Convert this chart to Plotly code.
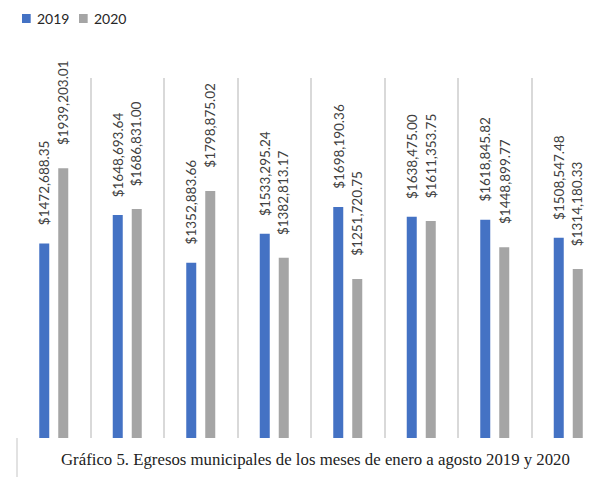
import plotly.graph_objects as go

months = ["enero", "febrero", "marzo", "abril", "mayo", "junio", "julio", "agosto"]
egresos_2019 = [1472688.35, 1648693.64, 1352883.66, 1533295.24, 1698190.36, 1638475.00, 1618845.82, 1508547.48]
egresos_2020 = [1939203.01, 1686831.00, 1798875.02, 1382813.17, 1251720.75, 1611353.75, 1448899.77, 1314180.33]
series_names = ["2019", "2020"]
colors = ["#4472C4", "#A5A5A5"]
caption = "Gráfico 5. Egresos municipales de los meses de enero a agosto 2019 y 2020"


def fmt(v):
    return "$" + f"{v:,.2f}".replace(",", "", 1) if v >= 1e6 else "$" + f"{v:,.2f}"


fig = go.Figure()
for name, vals, col in zip(series_names, [egresos_2019, egresos_2020], colors):
    fig.add_trace(go.Bar(x=months, y=vals, name=name, marker_color=col,
                         marker_line_width=0, showlegend=False))

annotations = []
for vals, xs, ys in [(egresos_2019, -9.5, 16), (egresos_2020, 9.5, 21)]:
    for m, v in zip(months, vals):
        annotations.append(dict(x=m, y=v, xref="x", yref="y", text=fmt(v),
                                textangle=-90, showarrow=False, xanchor="center",
                                yanchor="bottom", xshift=xs, yshift=ys,
                                font=dict(family="Lato", size=13.5, color="#404040")))

annotations.append(dict(x=0.508, y=-0.061, xref="paper", yref="paper", text=caption,
                        showarrow=False, xanchor="center", yanchor="middle",
                        font=dict(family="Liberation Serif", size=16.8, color="#222222")))

# legend (drawn manually to match compact spacing)
shapes = [dict(type="line", xref="paper", yref="paper", x0=0, x1=0, y0=-0.108, y1=0,
               line=dict(color="#d9d9d9", width=1.5))]
legend_x = [0.0085, 0.1054]
for name, col, lx in zip(series_names, colors, legend_x):
    shapes.append(dict(type="rect", xref="paper", yref="paper", x0=lx, x1=lx + 0.0148,
                       y0=1.1528, y1=1.1778, fillcolor=col, line=dict(width=0)))
    annotations.append(dict(x=lx + 0.022, y=1.1653, xref="paper", yref="paper", text=name,
                            showarrow=False, xanchor="left", yanchor="middle",
                            font=dict(family="Lato", size=14, color="#262626")))

fig.update_layout(
    width=606, height=477,
    margin=dict(l=17, r=1, t=78, b=39),
    paper_bgcolor="white", plot_bgcolor="white",
    barmode="group", bargap=0.483, bargroupgap=0.474,
    showlegend=False,
    annotations=annotations,
    shapes=shapes,
)
fig.update_xaxes(type="category", tickson="boundaries", showgrid=True, gridcolor="#d9d9d9",
                 gridwidth=1.5, showticklabels=False, ticks="", showline=False, zeroline=False)
fig.update_yaxes(range=[264000, 2500000], showgrid=False, showticklabels=False,
                 zeroline=False, showline=False, ticks="")

fig.write_html("out.html", config={"displayModeBar": False},
               post_script="document.body.style.margin='0';document.body.style.overflow='hidden';")
